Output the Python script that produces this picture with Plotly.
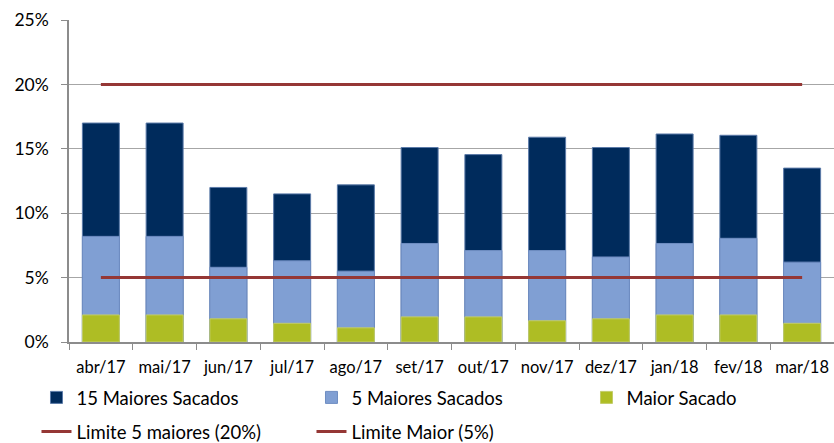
import plotly.graph_objects as go

categories = ["abr/17", "mai/17", "jun/17", "jul/17", "ago/17", "set/17",
              "out/17", "nov/17", "dez/17", "jan/18", "fev/18", "mar/18"]
top15 = [17.0, 17.0, 12.0, 11.5, 12.2, 15.1, 14.55, 15.9, 15.1, 16.15, 16.05, 13.5]
top5 = [8.2, 8.2, 5.8, 6.3, 5.5, 7.65, 7.1, 7.1, 6.6, 7.65, 8.05, 6.2]
maior = [2.1, 2.1, 1.8, 1.45, 1.1, 1.95, 1.95, 1.65, 1.8, 2.1, 2.1, 1.45]
limite5 = [20] * 12
limite1 = [5] * 12

FONT = "Lato"
fig = go.Figure()
fig.add_trace(go.Bar(x=categories, y=top15, name="15 Maiores Sacados",
                     marker=dict(color="#002B5C", line=dict(color="#5B7AA8", width=1))))
fig.add_trace(go.Bar(x=categories, y=top5, name="5 Maiores Sacados",
                     marker=dict(color="#809FD3", line=dict(color="#6F8DC2", width=1))))
fig.add_trace(go.Bar(x=categories, y=maior, name="Maior Sacado",
                     marker=dict(color="#AEBD24", line=dict(color="#C2CC6A", width=1))))
fig.add_trace(go.Scatter(x=categories, y=limite5, name="Limite 5 maiores (20%)", mode="lines",
                         line=dict(color="#953735", width=3), legend="legend2"))
fig.add_trace(go.Scatter(x=categories, y=limite1, name="Limite Maior (5%)", mode="lines",
                         line=dict(color="#953735", width=3), legend="legend2"))

fig.update_layout(
    width=834, height=443,
    margin=dict(l=69, r=0, t=20, b=101, autoexpand=False),
    barmode="overlay", bargap=0.42,
    plot_bgcolor="white", paper_bgcolor="white",
    font=dict(family=FONT, size=16, color="#000000"),
    showlegend=True,
    legend=dict(orientation="h", x=-0.0425, xanchor="left", y=-0.1145, yanchor="top",
                entrywidth=230, entrywidthmode="pixels", font=dict(size=18.5),
                traceorder="normal"),
    legend2=dict(orientation="h", x=-0.0425, xanchor="left", y=-0.2202, yanchor="top",
                 entrywidth=230, entrywidthmode="pixels", font=dict(size=18.5),
                 traceorder="normal"),
)
fig.update_xaxes(showline=True, linecolor="#8C8C8C", linewidth=1.5, automargin=False,
                 ticks="outside", tickson="boundaries", ticklen=6, tickcolor="#8C8C8C",
                 tickfont=dict(size=16.5), showgrid=False, ticklabelstandoff=9)
fig.update_yaxes(range=[0, 25], dtick=5, ticksuffix="%", showline=True, linecolor="#8C8C8C",
                 linewidth=1.5, ticks="outside", ticklen=6, tickcolor="#8C8C8C", automargin=False,
                 gridcolor="#A6A6A6", gridwidth=1.2, tickfont=dict(size=17.5), zeroline=False,
                 ticklabelstandoff=9)

fig.write_html("out.html", config={"displayModeBar": False},
               post_script="document.body.style.margin='0';")
